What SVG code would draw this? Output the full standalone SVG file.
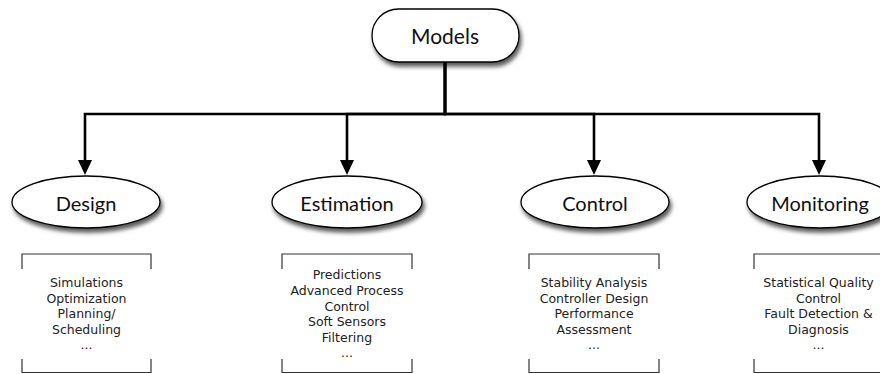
<svg xmlns="http://www.w3.org/2000/svg" width="880" height="374" viewBox="0 0 880 374">
  <style>
    .node { fill: #ffffff; stroke: #000000; stroke-width: 1.3; filter: url(#shadow); }
    .title { font-family: Lato, "Open Sans", sans-serif; font-size: 20px; fill: #111111; text-anchor: middle; }
    .bracket { fill: none; stroke: #333333; stroke-width: 1.2; }
    .list { font-family: "DejaVu Sans", "Liberation Sans", sans-serif; font-size: 12.5px; fill: #222222; text-anchor: middle; }
    .link { fill: none; stroke: #000000; stroke-width: 2.6; marker-end: url(#head); }
  </style>
  <defs>
    <filter id="shadow" x="-20%" y="-30%" width="140%" height="170%">
      <feDropShadow dx="2" dy="4" stdDeviation="2" flood-color="#000000" flood-opacity="0.65"/>
    </filter>
    <marker id="head" markerUnits="userSpaceOnUse" markerWidth="16" markerHeight="16" refX="3" refY="7" orient="auto">
      <path d="M0,0 L15,7 L0,14 Z" fill="#000000"/>
    </marker>
  </defs>

  <rect width="880" height="374" fill="#ffffff"/>

  <!-- connectors: trunk from Models, bus, and four drops -->
  <g id="connectors">
    <path class="link" d="M445,62 V114 H85 V163"/>
    <path class="link" d="M445,62 V114 H347 V163"/>
    <path class="link" d="M445,62 V114 H594 V163"/>
    <path class="link" d="M445,62 V114 H819 V163"/>
  </g>

  <g id="models">
    <rect class="node" x="372" y="9" width="147" height="53" rx="26.5" ry="26.5"/>
    <text class="title" x="445" y="44" style="font-size:21px">Models</text>
  </g>

  <g id="design">
    <ellipse class="node" cx="86" cy="202" rx="74" ry="26"/>
    <text class="title" x="86" y="211">Design</text>
  </g>
  <g id="estimation">
    <ellipse class="node" cx="347" cy="202" rx="75" ry="26"/>
    <text class="title" x="347" y="211">Estimation</text>
  </g>
  <g id="control">
    <ellipse class="node" cx="595" cy="202" rx="74" ry="26"/>
    <text class="title" x="595" y="211">Control</text>
  </g>
  <g id="monitoring">
    <ellipse class="node" cx="820" cy="202" rx="73" ry="26"/>
    <text class="title" x="820" y="211">Monitoring</text>
  </g>

  <!-- bracketed lists of applications -->
  <g id="design-list">
    <path class="bracket" d="M22,269 V254 H151 V269 M22,359 V372.5 H151 V359"/>
    <text class="list" x="86.5" y="287">Simulations</text>
    <text class="list" x="86.5" y="302.6">Optimization</text>
    <text class="list" x="86.5" y="318.2">Planning/</text>
    <text class="list" x="86.5" y="333.8">Scheduling</text>
    <text class="list" x="86.5" y="349.4">...</text>
  </g>
  <g id="estimation-list">
    <path class="bracket" d="M282,269 V254 H412 V269 M282,359 V372.5 H412 V359"/>
    <text class="list" x="347" y="279.4">Predictions</text>
    <text class="list" x="347" y="295">Advanced Process</text>
    <text class="list" x="347" y="310.6">Control</text>
    <text class="list" x="347" y="326.2">Soft Sensors</text>
    <text class="list" x="347" y="341.8">Filtering</text>
    <text class="list" x="347" y="357.4">...</text>
  </g>
  <g id="control-list">
    <path class="bracket" d="M529,269 V254 H659 V269 M529,359 V372.5 H659 V359"/>
    <text class="list" x="594" y="287">Stability Analysis</text>
    <text class="list" x="594" y="302.6">Controller Design</text>
    <text class="list" x="594" y="318.2">Performance</text>
    <text class="list" x="594" y="333.8">Assessment</text>
    <text class="list" x="594" y="349.4">...</text>
  </g>
  <g id="monitoring-list">
    <path class="bracket" d="M754,269 V254 H883 V269 M754,359 V372.5 H883 V359"/>
    <text class="list" x="818.5" y="287">Statistical Quality</text>
    <text class="list" x="818.5" y="302.6">Control</text>
    <text class="list" x="818.5" y="318.2">Fault Detection &amp;</text>
    <text class="list" x="818.5" y="333.8">Diagnosis</text>
    <text class="list" x="818.5" y="349.4">...</text>
  </g>
</svg>
